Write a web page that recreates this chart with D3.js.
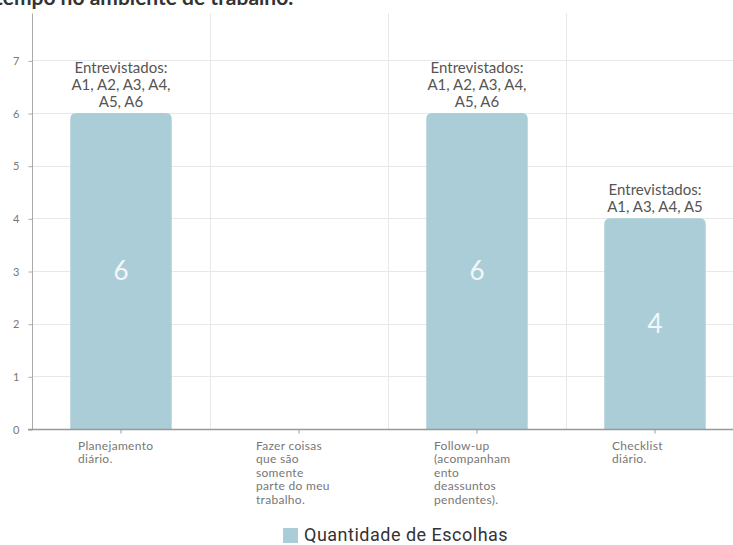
<!DOCTYPE html>
<html>
<head>
<meta charset="utf-8">
<script src="https://cdn.jsdelivr.net/npm/d3@7"></script>
<style>
body{margin:0;background:#fff;}
svg{display:block;}
</style>
</head>
<body>
<svg id="chart" width="733" height="545"></svg>
<script>
var titleText = "tempo no ambiente de trabalho.";
var categories = ["Planejamento diário.", "Fazer coisas que são somente parte do meu trabalho.", "Follow-up (acompanhamento deassuntos pendentes).", "Checklist diário."];
var categoryLines = [
	["Planejamento", "diário."],
	["Fazer coisas", "que são", "somente", "parte do meu", "trabalho."],
	["Follow-up", "(acompanham", "ento", "deassuntos", "pendentes)."],
	["Checklist", "diário."]
];
var values = [6, 0, 6, 4];
var notes = [
	["Entrevistados:", "A1, A2, A3, A4,", "A5, A6"],
	[],
	["Entrevistados:", "A1, A2, A3, A4,", "A5, A6"],
	["Entrevistados:", "A1, A3, A4, A5"]
];
var yTicks = [0, 1, 2, 3, 4, 5, 6, 7];
var seriesName = "Quantidade de Escolhas";

var svg = d3.select("#chart");
var plotLeft = 32, plotBottom = 429, plotTop = 13;
var barColor = "#abcdd7";

var x = d3.scaleBand()
	.domain(categories)
	.range([plotLeft, 744])
	.padding(0);
var barW = x.bandwidth() * 0.57;

var y = d3.scaleLinear()
	.domain([0, 7.9])
	.range([plotBottom, plotTop]);

var rows = categories.map(function(c, i){
	return {cat: c, value: values[i], note: notes[i], lines: categoryLines[i]};
});
function cx(d){ return x(d.cat) + x.bandwidth() / 2; }

// title (cut off at top)
svg.append("text")
	.attr("x", -5)
	.attr("y", 5)
	.attr("font-family", "Lato")
	.attr("font-weight", "bold")
	.attr("font-size", 21)
	.attr("fill", "#333")
	.text(titleText);

// horizontal grid
svg.append("g")
	.selectAll("line")
	.data(yTicks)
	.enter()
	.append("line")
	.attr("x1", plotLeft)
	.attr("x2", 733)
	.attr("y1", function(d){ return Math.round(y(d)) + 0.5; })
	.attr("y2", function(d){ return Math.round(y(d)) + 0.5; })
	.attr("stroke", "#e8e8e8");

// vertical grid at band edges
svg.append("g")
	.selectAll("line")
	.data(categories.slice(1))
	.enter()
	.append("line")
	.attr("x1", function(d){ return Math.round(x(d)) + 0.5; })
	.attr("x2", function(d){ return Math.round(x(d)) + 0.5; })
	.attr("y1", plotTop)
	.attr("y2", plotBottom)
	.attr("stroke", "#e8e8e8");

// bars with rounded tops
function barPath(d){
	var c = cx(d);
	var x0 = c - barW / 2, x1 = c + barW / 2;
	var yt = y(d.value), yb = y(0), r = 6;
	return "M" + x0 + "," + yb +
		"L" + x0 + "," + (yt + r) +
		"Q" + x0 + "," + yt + " " + (x0 + r) + "," + yt +
		"L" + (x1 - r) + "," + yt +
		"Q" + x1 + "," + yt + " " + x1 + "," + (yt + r) +
		"L" + x1 + "," + yb + "Z";
}

var withValue = rows.filter(function(d){ return d.value > 0; });

svg.append("g")
	.selectAll("path")
	.data(withValue)
	.enter()
	.append("path")
	.attr("d", barPath)
	.attr("fill", barColor);

// value labels in bars
svg.append("g")
	.selectAll("text")
	.data(withValue)
	.enter()
	.append("text")
	.attr("x", cx)
	.attr("y", function(d){ return (y(d.value) + y(0)) / 2 + 9; })
	.attr("text-anchor", "middle")
	.attr("font-family", "Lato")
	.attr("font-size", 26)
	.attr("fill", "#f2f7f9")
	.text(function(d){ return d.value; });

// annotations above bars
withValue.forEach(function(d){
	var base = y(d.value) - 6;
	var t = svg.append("text")
		.attr("text-anchor", "middle")
		.attr("font-family", "Lato")
		.attr("font-size", 15)
		.attr("fill", "#555");
	d.note.forEach(function(l, j){
		t.append("tspan")
			.attr("x", cx(d))
			.attr("y", base - (d.note.length - 1 - j) * 17)
			.text(l);
	});
});

// y axis
var yAxis = d3.axisLeft(y)
	.tickValues(yTicks)
	.tickSize(4)
	.tickPadding(9)
	.tickFormat(d3.format("d"));
var ya = svg.append("g")
	.attr("transform", "translate(" + (plotLeft + 0.5) + ",0.5)")
	.call(yAxis);
ya.select(".domain").attr("d", "M0," + plotTop + "V" + plotBottom).attr("stroke", "#aaa");
ya.selectAll(".tick line").attr("stroke", "#aaa");
ya.selectAll(".tick text")
	.attr("font-family", "Lato")
	.attr("font-size", 11)
	.attr("fill", "#777");

// x axis
var xAxis = d3.axisBottom(x).tickSize(4).tickFormat("");
var xa = svg.append("g")
	.attr("transform", "translate(0," + (plotBottom + 0.5) + ")")
	.call(xAxis);
xa.select(".domain").attr("d", "M" + (plotLeft - 4) + ",0H733").attr("stroke", "#999").attr("stroke-width", 1.5);
xa.selectAll(".tick line").attr("stroke", "#999");

// category labels
rows.forEach(function(d){
	var t = svg.append("text")
		.attr("font-family", "Lato")
		.attr("font-size", 12)
		.attr("letter-spacing", 0.3)
		.attr("fill", "#777");
	d.lines.forEach(function(l, j){
		t.append("tspan")
			.attr("x", cx(d) - 43)
			.attr("y", 450 + j * 13.4)
			.text(l);
	});
});

// legend
svg.append("rect")
	.attr("x", 283)
	.attr("y", 528)
	.attr("width", 15)
	.attr("height", 15)
	.attr("fill", barColor);
svg.append("text")
	.attr("x", 304)
	.attr("y", 541)
	.attr("font-family", "Roboto")
	.attr("font-size", 18)
	.attr("letter-spacing", 0.5)
	.attr("fill", "#333")
	.text(seriesName);
</script>
</body>
</html>
